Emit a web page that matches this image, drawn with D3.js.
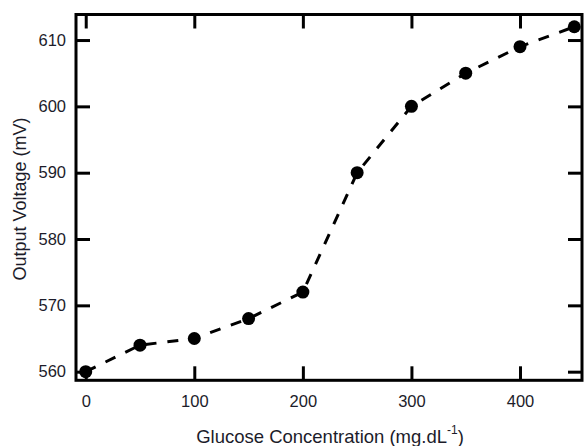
<!DOCTYPE html>
<html>
<head>
<meta charset="utf-8">
<script src="https://cdn.jsdelivr.net/npm/d3@7"></script>
<style>
  html, body { margin: 0; padding: 0; background: #fff; }
  svg { display: block; font-family: "Liberation Sans", Arial, sans-serif; }
</style>
</head>
<body>
<svg id="chart" width="584" height="446"></svg>
<script>
// Data
const glucose = [0, 50, 100, 150, 200, 250, 300, 350, 400, 450];
const voltage = [560, 564, 565, 568, 572, 590, 600, 605, 609, 612];
const xTicks = [0, 100, 200, 300, 400];
const yTicks = [560, 570, 580, 590, 600, 610];

(function () {
const svg = d3.select("#chart");
const mLeft = 76, mRight = 582, mTop = 14.5, mBottom = 380.3;

const x = d3.scaleLinear().domain([-8.96, 457.1]).range([mLeft, mRight]);
const y = d3.scaleLinear().domain([558.7, 613.85]).range([mBottom, mTop]);

const textColor = "#1c1c2a";

// line
const line = d3.line()
  .x((d, i) => x(glucose[i]))
  .y((d, i) => y(voltage[i]));

svg.append("path")
  .datum(voltage)
  .attr("d", line)
  .attr("fill", "none")
  .attr("stroke", "#000")
  .attr("stroke-width", 3)
  .attr("stroke-dasharray", "11,11");

// markers
svg.selectAll("circle.pt")
  .data(voltage)
  .enter().append("circle")
  .attr("class", "pt")
  .attr("cx", (d, i) => x(glucose[i]))
  .attr("cy", d => y(d))
  .attr("r", 6.5)
  .attr("fill", "#000");

// axes (inward ticks, mirrored)
function styleAxis(g) {
  g.select(".domain").remove();
  g.selectAll(".tick line").attr("stroke", "#000").attr("stroke-width", 3);
  g.selectAll(".tick text").attr("fill", textColor)
    .style("font-size", "16.5px")
    .style("font-family", "'Liberation Sans', Arial, sans-serif");
}

const tl = 14;
const gxB = svg.append("g").attr("transform", `translate(0,${mBottom})`)
  .call(d3.axisBottom(x).tickValues(xTicks).tickSizeInner(-tl).tickSizeOuter(0).tickPadding(15));
styleAxis(gxB);
const gxT = svg.append("g").attr("transform", `translate(0,${mTop})`)
  .call(d3.axisTop(x).tickValues(xTicks).tickSizeInner(-tl).tickSizeOuter(0).tickFormat(""));
styleAxis(gxT);
const gyL = svg.append("g").attr("transform", `translate(${mLeft},0)`)
  .call(d3.axisLeft(y).tickValues(yTicks).tickSizeInner(-tl).tickSizeOuter(0).tickPadding(10));
styleAxis(gyL);
const gyR = svg.append("g").attr("transform", `translate(${mRight},0)`)
  .call(d3.axisRight(y).tickValues(yTicks).tickSizeInner(-tl).tickSizeOuter(0).tickFormat(""));
styleAxis(gyR);

// frame
svg.append("rect")
  .attr("x", mLeft).attr("y", mTop)
  .attr("width", mRight - mLeft).attr("height", mBottom - mTop)
  .attr("fill", "none").attr("stroke", "#000").attr("stroke-width", 3);

// axis titles
const xt = svg.append("text")
  .attr("x", 330).attr("y", 443)
  .attr("text-anchor", "middle")
  .attr("fill", textColor)
  .style("font-size", "18.5px");
xt.append("tspan").text("Glucose Concentration (mg.dL");
xt.append("tspan").attr("dy", -9).style("font-size", "12px").text("-1");
xt.append("tspan").attr("dy", 9).text(")");

svg.append("text")
  .attr("transform", "translate(26,199) rotate(-90)")
  .attr("text-anchor", "middle")
  .attr("fill", textColor)
  .style("font-size", "18px")
  .text("Output Voltage (mV)");
})();
</script>
</body>
</html>
